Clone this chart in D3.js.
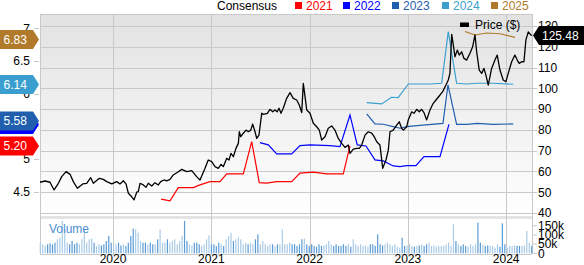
<!DOCTYPE html>
<html><head><meta charset="utf-8">
<script src="https://cdn.jsdelivr.net/npm/d3@7"></script>
<style>body{margin:0;background:#fff}svg{display:block;font-family:"Liberation Sans",Arial,sans-serif}</style>
</head><body><svg id="c" width="584" height="265"></svg>
<script>
// ---- data ----
const priceYears = [2019.257,2019.308,2019.359,2019.400,2019.444,2019.478,2019.522,2019.563,2019.596,2019.637,2019.692,2019.732,2019.773,2019.800,2019.861,2019.901,2019.936,2019.987,2020.038,2020.071,2020.105,2020.132,2020.156,2020.190,2020.214,2020.241,2020.257,2020.275,2020.308,2020.336,2020.359,2020.394,2020.427,2020.461,2020.485,2020.519,2020.546,2020.580,2020.613,2020.661,2020.699,2020.750,2020.801,2020.851,2020.885,2020.936,2020.969,2021.004,2021.038,2021.071,2021.099,2021.122,2021.157,2021.180,2021.200,2021.224,2021.251,2021.275,2021.285,2021.299,2021.326,2021.353,2021.376,2021.401,2021.421,2021.445,2021.462,2021.485,2021.513,2021.529,2021.570,2021.597,2021.625,2021.648,2021.671,2021.689,2021.709,2021.732,2021.767,2021.801,2021.834,2021.869,2021.895,2021.920,2021.936,2021.971,2022.004,2022.038,2022.072,2022.099,2022.123,2022.157,2022.190,2022.225,2022.258,2022.292,2022.327,2022.360,2022.394,2022.411,2022.445,2022.479,2022.506,2022.530,2022.564,2022.597,2022.632,2022.658,2022.683,2022.716,2022.744,2022.777,2022.801,2022.818,2022.851,2022.886,2022.912,2022.937,2022.954,2022.988,2023.004,2023.039,2023.062,2023.090,2023.116,2023.140,2023.164,2023.191,2023.225,2023.258,2023.286,2023.319,2023.354,2023.388,2023.411,2023.428,2023.446,2023.462,2023.479,2023.503,2023.523,2023.547,2023.571,2023.598,2023.632,2023.659,2023.683,2023.700,2023.726,2023.751,2023.774,2023.794,2023.818,2023.852,2023.886,2023.909,2023.937,2023.970,2023.998,2024.021,2024.056,2024.089,2024.113,2024.133,2024.158,2024.181,2024.201,2024.225,2024.250,2024.263];
const priceValues = [54.8,55.4,54.8,51.1,54.3,57.5,59.9,58.6,55.1,51.9,54.0,54.3,57.0,54.3,56.7,56.2,55.1,54.0,55.1,54.0,55.5,54.0,49.5,47.8,46.3,50.0,50.3,54.3,53.5,52.4,54.3,53.0,54.6,53.5,55.1,55.9,55.5,56.2,58.3,59.7,61.0,59.9,60.4,57.5,55.9,61.5,65.5,64.7,62.3,61.5,63.4,62.3,66.3,65.5,68.7,67.1,71.1,73.5,79.1,76.7,78.4,79.9,79.1,79.9,82.8,79.1,75.9,77.5,88.0,87.5,88.0,89.9,88.7,89.6,88.7,90.4,88.0,90.4,95.2,97.9,95.2,94.4,92.0,88.3,102.4,89.6,88.0,83.2,81.5,79.9,75.1,76.7,80.8,81.9,79.9,75.9,73.5,71.6,72.7,68.7,70.7,71.1,71.1,72.7,77.5,79.1,78.4,76.7,74.3,72.7,61.5,65.5,70.3,79.1,79.9,82.3,83.9,80.8,79.9,81.5,84.8,88.7,88.0,89.9,88.7,89.9,88.3,84.8,89.6,92.8,94.4,96.3,98.4,101.6,104.0,107.2,126.0,121.0,115.2,118.4,116.0,117.6,114.4,113.6,116.9,120.0,125.7,117.6,108.8,107.2,109.6,106.4,101.6,109.6,113.6,116.0,108.8,104.0,103.2,107.2,112.8,116.0,113.6,112.0,112.8,112.8,123.3,127.2,125.7,125.48];

const c2021Years = [2020.488,2020.529,2020.580,2020.664,2020.817,2020.885,2020.987,2021.088,2021.157,2021.326,2021.411,2021.488,2021.563,2021.665,2021.818,2021.902,2022.038,2022.174,2022.343,2022.411];
const c2021Values = [4.385,4.375,4.36,4.563,4.563,4.604,4.654,4.654,4.772,4.772,5.266,4.639,4.63,4.654,4.654,4.783,4.798,4.772,4.772,5.20];
const c2022Years = [2021.495,2021.580,2021.665,2021.818,2021.902,2022.004,2022.207,2022.309,2022.411,2022.485,2022.574,2022.665,2022.750,2022.851,2022.920,2022.988,2023.082,2023.164,2023.327,2023.418];
const c2022Values = [5.251,5.216,5.078,5.078,5.205,5.216,5.205,5.19,5.674,5.216,5.20,4.986,4.971,4.894,4.884,4.899,4.899,5.037,5.037,5.53];
const c2023Years = [2022.581,2022.665,2022.750,2022.851,2022.920,2022.988,2023.123,2023.357,2023.408,2023.496,2023.601,2023.703,2023.866,2024.072];
const c2023Values = [5.69,5.537,5.532,5.495,5.471,5.495,5.514,5.544,6.133,5.529,5.529,5.544,5.529,5.537];
const c2024Years = [2022.581,2022.733,2022.834,2022.902,2023.004,2023.123,2023.225,2023.344,2023.411,2023.496,2023.598,2023.700,2023.869,2024.072];
const c2024Values = [5.862,5.843,5.945,5.939,6.148,6.148,6.148,6.159,6.948,6.159,6.148,6.159,6.159,6.144];
const c2025Years = [2023.581,2023.683,2023.802,2023.937,2024.089];
const c2025Values = [6.951,6.898,6.928,6.917,6.862];

const seriesNames = ["2021","2022","2023","2024","2025"];
const seriesColors = ["#ff0000","#0000ff","#1f5fae","#3a9fcf","#b07a2a"];

// badge for 2022 sits behind the 2023 badge (its label is hidden)
const badgeLabels = ["5.20","","5.58","6.14","6.83"];
const badgeValues = [5.20,5.53,5.58,6.14,6.83];
const badgeColors = ["#ff0000","#0000ff","#1f5fae","#3a9fcf","#b07a2a"];
const lastPrice = 125.48;

const volumes = [58,49,40,49,54,49,58,76,85,176,130,58,49,67,49,58,49,76,130,58,76,80,58,40,49,43,49,67,94,58,36,49,58,43,49,40,58,94,134,130,112,67,58,58,49,58,49,49,76,130,58,58,76,58,67,76,49,67,94,176,67,49,43,58,58,49,
40,49,76,98,49,49,40,58,49,40,76,94,112,67,76,85,76,49,58,49,58,49,76,103,49,67,49,40,49,49,40,49,49,130,49,49,58,49,49,40,49,76,80,49,40,49,40,36,49,40,43,49,67,49,40,49,40,40,49,40,49,36,76,49,40,49,40,43,36,49,49,40,103,49,43,49,58,49,40,49,36,
31,85,40,43,49,40,36,40,43,49,40,49,58,40,43,36,40,40,40,49,58,40,157,67,49,40,49,40,36,49,40,49,167,58,49,40,43,40,40,31,49,36,163,49,31,40,40,43,40,40,40,43,121,58,40];

const priceTicks = [40,50,60,70,80,90,100,110,120,130];
const epsTicks = [4.5,5,5.5,6,6.5,7];
const volTicks = [0,50,100,150];
const volTickLabels = ["0","50k","100k","150k"];
const yearTicks = [2020,2021,2022,2023,2024];

// ---- layout ----
const L=40, R=532, T=14, PB=216, VT=216, VB=254;
const svg = d3.select("#c");
const x = d3.scaleLinear().domain([2019.257, 2024.263]).range([L, R]);
const yP = d3.scaleLinear().domain([40,130]).range([213,26]);
const yE = d3.scaleLinear().domain([4.5,7]).range([191.7,28.3]);
const yV = d3.scaleLinear().domain([0,150]).range([253.3,225.7]);

const defs = svg.append("defs");
const g = defs.append("linearGradient").attr("id","bg").attr("x1",0).attr("y1",0).attr("x2",0).attr("y2",1);
g.append("stop").attr("offset","0%").attr("stop-color","#e2e2e2");
g.append("stop").attr("offset","100%").attr("stop-color","#ffffff");
defs.append("clipPath").attr("id","cp").append("rect").attr("x",L).attr("y",T).attr("width",R-L).attr("height",PB-T);

svg.append("rect").attr("x",L).attr("y",T).attr("width",R-L).attr("height",PB-T).attr("fill","url(#bg)");
svg.append("rect").attr("x",L).attr("y",VT).attr("width",R-L).attr("height",VB-VT).attr("fill","#fff");
svg.append("rect").attr("x",L).attr("y",VT).attr("width",R-L).attr("height",3).attr("fill","#e4e4e4");

const grid = "#c9c9c9";
svg.append("g").selectAll("line").data(priceTicks).join("line")
  .attr("x1",L).attr("x2",R).attr("y1",d=>Math.round(yP(d))+0.5).attr("y2",d=>Math.round(yP(d))+0.5)
  .attr("stroke",grid);
svg.append("line").attr("x1",L).attr("x2",R).attr("y1",T+0.5).attr("y2",T+0.5).attr("stroke",grid);
svg.append("line").attr("x1",L).attr("x2",R).attr("y1",VB+0.5).attr("y2",VB+0.5).attr("stroke",grid);
svg.append("g").selectAll("line").data(yearTicks).join("line")
  .attr("x1",d=>Math.round(x(d))+0.5).attr("x2",d=>Math.round(x(d))+0.5).attr("y1",T).attr("y2",VB)
  .attr("stroke",grid);
svg.append("line").attr("x1",L+0.5).attr("x2",L+0.5).attr("y1",T).attr("y2",VB).attr("stroke",grid);
svg.append("line").attr("x1",R+0.5).attr("x2",R+0.5).attr("y1",T).attr("y2",VB).attr("stroke",grid);

// volume bars
const nV = volumes.length;
const vStep = (2024.26 - 2019.26)/(nV-1);
const interpP = (t)=>{const i=d3.bisectLeft(priceYears,t); if(i<=0) return priceValues[0]; if(i>=priceYears.length) return priceValues[priceValues.length-1];
  const a=priceYears[i-1], b=priceYears[i]; return priceValues[i-1]+(priceValues[i]-priceValues[i-1])*(t-a)/(b-a);};
svg.append("g").selectAll("rect").data(volumes).join("rect")
  .attr("x",(d,i)=>x(2019.26+i*vStep)-0.6).attr("width",1.2)
  .attr("y",d=>yV(d)).attr("height",d=>yV(0)-yV(d))
  .attr("fill",(d,i)=> (i>0 && interpP(2019.26+i*vStep) < interpP(2019.26+(i-1)*vStep)) ? "#5b9bd5" : "#a9cbe8");

svg.append("text").attr("x",49).attr("y",233).attr("font-size",12).attr("fill","#4a8fd0").text("Volume");

// consensus lines
const cg = svg.append("g").attr("clip-path","url(#cp)");
const series = [[c2021Years,c2021Values],[c2022Years,c2022Values],[c2023Years,c2023Values],[c2024Years,c2024Values],[c2025Years,c2025Values]];
const line = d3.line().x(d=>x(d[0])).y(d=>yE(d[1]));
series.forEach((s,k)=>{
  cg.append("path").attr("d",line(s[0].map((t,i)=>[t,s[1][i]]))).attr("fill","none")
    .attr("stroke",seriesColors[k]).attr("stroke-width",1.2);
});
const pline = d3.line().x(d=>x(d[0])).y(d=>yP(d[1]));
cg.append("path").attr("d",pline(priceYears.map((t,i)=>[t,priceValues[i]]))).attr("fill","none")
  .attr("stroke","#000").attr("stroke-width",1.3).attr("stroke-linejoin","round");

// legend
svg.append("text").attr("x",217).attr("y",9.5).attr("font-size",12).attr("fill","#000").text("Consensus");
const legX = [295,343,392,442,491];
seriesNames.forEach((n,k)=>{
  svg.append("rect").attr("x",legX[k]).attr("y",2).attr("width",7).attr("height",7).attr("fill",seriesColors[k]);
  svg.append("text").attr("x",legX[k]+11).attr("y",9.5).attr("font-size",12).attr("fill",seriesColors[k]).text(n);
});
svg.append("rect").attr("x",460).attr("y",22.5).attr("width",9).attr("height",4.5).attr("fill","#000");
svg.append("text").attr("x",475).attr("y",28.5).attr("font-size",12).attr("fill","#000").text("Price ($)");

// axes
const axisCol="#c9c9c9";
svg.append("g").selectAll("line").data(priceTicks).join("line")
  .attr("x1",R).attr("x2",R+5).attr("y1",d=>Math.round(yP(d))+0.5).attr("y2",d=>Math.round(yP(d))+0.5).attr("stroke",axisCol);
svg.append("g").selectAll("text").data(priceTicks).join("text")
  .attr("x",538).attr("y",d=>yP(d)+4.3).attr("font-size",12).attr("fill","#000").text(d=>d);
svg.append("g").selectAll("line").data(volTicks).join("line")
  .attr("x1",R).attr("x2",R+5).attr("y1",d=>yV(d)).attr("y2",d=>yV(d)).attr("stroke",axisCol);
svg.append("g").selectAll("text").data(volTicks).join("text")
  .attr("x",538).attr("y",d=>yV(d)+4.3).attr("font-size",12).attr("fill","#000").text((d,i)=>volTickLabels[i]);
svg.append("g").selectAll("line").data(epsTicks).join("line")
  .attr("x1",34).attr("x2",39).attr("y1",d=>Math.round(yE(d))+0.5).attr("y2",d=>Math.round(yE(d))+0.5).attr("stroke",axisCol);
svg.append("g").selectAll("text").data(epsTicks).join("text")
  .attr("x",30).attr("y",d=>yE(d)+4.3).attr("text-anchor","end").attr("font-size",12).attr("fill","#000").text(d=>d);
svg.append("g").selectAll("text").data(yearTicks).join("text")
  .attr("x",d=>x(d)).attr("y",263).attr("text-anchor","middle").attr("font-size",12).attr("fill","#000").text(d=>d);

// badges
const bh=19;
badgeValues.forEach((v,k)=>{
  const cy=yE(v);
  const pts=[[0,cy-bh/2],[33,cy-bh/2],[39,cy],[33,cy+bh/2],[0,cy+bh/2]];
  svg.append("path").attr("d",d3.line()(pts)+"Z").attr("fill",badgeColors[k]);
  if (badgeLabels[k]) svg.append("text").attr("x",3.5).attr("y",cy+4.3).attr("font-size",12).attr("fill","#fff").text(badgeLabels[k]);
});
{
  const cy=yP(lastPrice);
  const pts=[[533,cy],[539,cy-bh/2],[584,cy-bh/2],[584,cy+bh/2],[539,cy+bh/2]];
  svg.append("path").attr("d",d3.line()(pts)+"Z").attr("fill","#000");
  svg.append("text").attr("x",542).attr("y",cy+4.3).attr("font-size",12).attr("fill","#fff").text(lastPrice.toFixed(2));
}
</script></body></html>
